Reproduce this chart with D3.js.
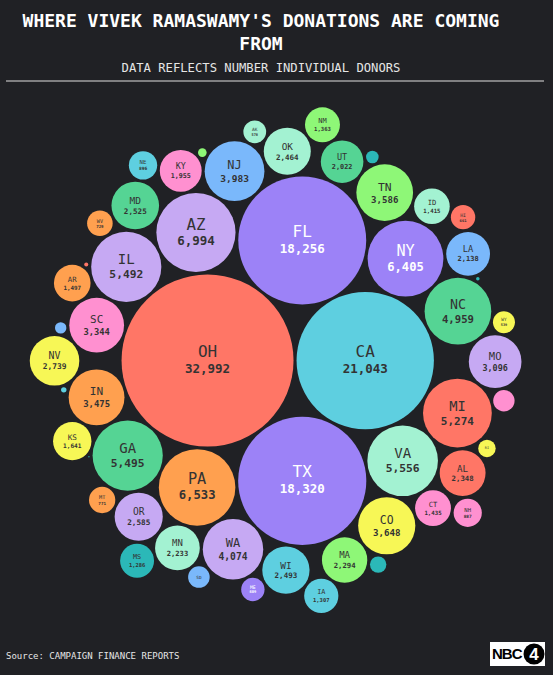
<!DOCTYPE html>
<html><head><meta charset="utf-8">
<script src="https://cdn.jsdelivr.net/npm/d3@7"></script>
<style>body{margin:0;background:#202125;overflow:hidden}svg{display:block}</style>
</head><body><svg id="c" width="553" height="675"></svg>
<script>
// data in the original drawing order
const states = ["OH","CA","TX","FL","AZ","PA","NY","VA","GA","IL","MI","NC","WA","NJ","CO","TN","IN","SC","MO","NV","OR","MD","WI","OK","AL","MA","MN","LA","UT","KY","KS","AR","CT","ID","NM","IA","MS","NE","NH","MT","WV","HI","ME","AK","WY","DE","SD","RI","VT","ND","PR","DC","AE","AP","GU","VI"];
const donors = [32992,21043,18320,18256,6994,6533,6405,5556,5495,5492,5274,4959,4074,3983,3648,3586,3475,3344,3096,2739,2585,2525,2493,2464,2348,2294,2233,2138,2022,1955,1641,1497,1435,1415,1363,1307,1286,896,887,771,729,661,609,578,539,510,520,340,300,177,83,145,33,14,18,2];
const colors = ["#ff7666","#5ecfe0","#9c82f7","#9c82f7","#c6a9f3","#ffa04f","#9c82f7","#a3f2d2","#55d494","#c6a9f3","#ff7666","#55d494","#c6a9f3","#7ab8fb","#f7f756","#8ef777","#ffa04f","#ff90d0","#c6a9f3","#f7f756","#c6a9f3","#55d494","#5ecfe0","#a3f2d2","#ff7666","#8ef777","#a3f2d2","#7ab8fb","#55d494","#ff90d0","#f7f756","#ffa04f","#ff90d0","#a3f2d2","#8ef777","#5ecfe0","#2bb8b8","#5ecfe0","#ff90d0","#ffa04f","#ffa04f","#ff7666","#9c82f7","#a3f2d2","#f7f756","#ff90d0","#7ab8fb","#f7f756","#2bb8b8","#2bb8b8","#8ef777","#7ab8fb","#5ecfe0","#2bb8b8","#ff7666","#2bb8b8"];
const hiddenLabels = ["DE","VT","ND","DC","PR","AE","AP","GU","VI"];
const hiddenValues = ["SD","RI"];
const titleLines = ["WHERE VIVEK RAMASWAMY'S DONATIONS ARE COMING","FROM"];
const subtitle = "DATA REFLECTS NUMBER INDIVIDUAL DONORS";
const source = "Source: CAMPAIGN FINANCE REPORTS";

const svg = d3.select("#c");
const W = 553, H = 675;
const font = "'DejaVu Sans Mono', 'Liberation Mono', monospace";
svg.append("rect").attr("width",W).attr("height",H).attr("fill","#202125");

svg.selectAll("text.title").data(titleLines).join("text").attr("class","title")
  .attr("x",261).attr("y",(d,i)=>27+i*23).attr("text-anchor","middle")
  .attr("fill","#fff").attr("font-family",font).attr("font-weight","bold")
  .attr("font-size",18).text(d=>d);
svg.append("text").attr("x",261).attr("y",72).attr("text-anchor","middle")
  .attr("fill","#e6e6e6").attr("font-family",font).attr("font-size",12.2).text(subtitle);
svg.append("line").attr("x1",6).attr("x2",544).attr("y1",81).attr("y2",81)
  .attr("stroke","#e0e0e0").attr("stroke-width",1);

const gap = 1.5;
const rScale = d3.scaleSqrt().domain([0,d3.max(donors)]).range([0,86]);
const nodes = states.map((s,i)=>({state:s,value:donors[i],color:colors[i],r:rScale(donors[i])+gap}));
d3.packSiblings(nodes);
nodes.forEach(n=>n.r -= gap);

const g = svg.append("g").attr("transform","translate(274.9,361.7)");
const node = g.selectAll("g.n").data(nodes).join("g").attr("class","n")
  .attr("transform",d=>`translate(${d.x},${d.y})`);
node.append("circle").attr("r",d=>d.r).attr("fill",d=>d.color);
const txtColor = d => d.color==="#9c82f7" ? "#ffffff" : "#333333";
const showVal = d => !hiddenLabels.includes(d.state) && !hiddenValues.includes(d.state) && d.r>10.2;
node.filter(d=>!hiddenLabels.includes(d.state)).append("text")
  .attr("text-anchor","middle").attr("dominant-baseline","central")
  .attr("y",d=>showVal(d) ? -Math.min(9,0.21*d.r) : 0)
  .attr("font-family",font).attr("font-size",d=>Math.min(16,0.4*d.r))
  .attr("fill",txtColor).text(d=>d.state);
node.filter(showVal).append("text")
  .attr("text-anchor","middle").attr("dominant-baseline","central")
  .attr("y",d=>Math.min(8,0.25*d.r))
  .attr("font-family",font).attr("font-weight","bold").attr("font-size",d=>Math.min(12.5,0.32*d.r))
  .attr("fill",txtColor).text(d=>d3.format(",")(d.value));

svg.append("text").attr("x",6).attr("y",659).attr("fill","#e6e6e6")
  .attr("font-family",font).attr("font-size",9).text(source);
const logo = svg.append("g").attr("transform","translate(490,642)");
logo.append("rect").attr("width",55).attr("height",24).attr("fill","#fff");
logo.append("text").attr("x",2).attr("y",17).attr("font-family","'Liberation Sans', Arial, sans-serif")
  .attr("font-weight","bold").attr("font-size",15).attr("letter-spacing",-1).attr("fill","#000").text("NBC");
logo.append("circle").attr("cx",44).attr("cy",12).attr("r",10.5).attr("fill","#000");
logo.append("text").attr("x",44).attr("y",18).attr("text-anchor","middle").attr("font-family","'Liberation Sans', Arial, sans-serif")
  .attr("font-weight","bold").attr("font-size",17).attr("fill","#fff").text("4");
</script></body></html>
